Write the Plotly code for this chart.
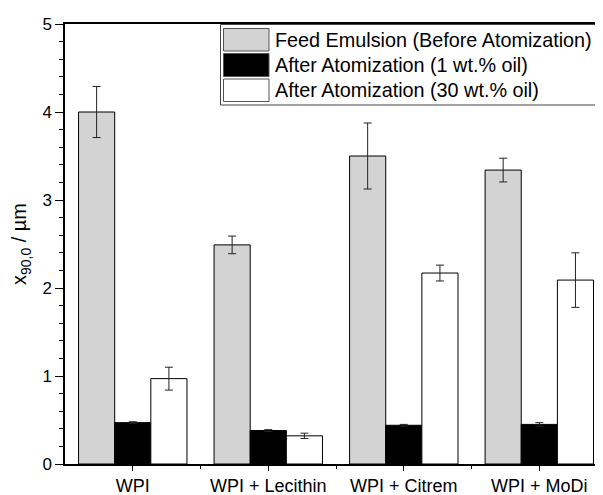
import plotly.graph_objects as go

categories = ["WPI", "WPI + Lecithin", "WPI + Citrem", "WPI + MoDi"]
series_names = ["Feed Emulsion (Before Atomization)",
                "After Atomization (1 wt.% oil)",
                "After Atomization (30 wt.% oil)"]
feed_vals = [4.00, 2.49, 3.50, 3.34]
feed_err = [0.29, 0.10, 0.375, 0.135]
oil1_vals = [0.47, 0.38, 0.44, 0.45]
oil1_err = [0.01, 0.01, 0.01, 0.02]
oil30_vals = [0.97, 0.32, 2.17, 2.09]
oil30_err = [0.13, 0.03, 0.09, 0.31]
y_ticks = [0, 1, 2, 3, 4, 5]

colors = ["#d3d3d3", "#000000", "#ffffff"]
FONT = "Liberation Sans, Arial, sans-serif"

xpos = list(range(len(categories)))
fig = go.Figure()
for name, vals, errs, col in zip(series_names,
                                 [feed_vals, oil1_vals, oil30_vals],
                                 [feed_err, oil1_err, oil30_err], colors):
    fig.add_trace(go.Bar(
        x=xpos, y=vals, name=name,
        marker=dict(color=col, line=dict(color="#000000", width=1)),
        error_y=dict(type="data", array=errs, visible=True,
                     color="#222222", thickness=1, width=4),
        showlegend=False,
    ))

# page offset (body margin) and plot area in page pixels
OFF = 8
W, H = 603 - OFF, 495 - OFF
L, R, T, B = 65, 603, 24, 464
def px(x):
    return (x - L) / (R - L)
def py(y):
    return (B - y) / (B - T)

shapes = [dict(type="rect", xref="paper", yref="paper",
               x0=px(220.5), x1=px(606), y0=py(105), y1=py(24.5),
               line=dict(color="#444444", width=1), fillcolor="white", layer="above")]
annotations = []
rows = [(28.5, 51), (53.5, 76.5), (79, 101.5)]
for (y0, y1), name, col in zip(rows, series_names, colors):
    shapes.append(dict(type="rect", xref="paper", yref="paper",
                       x0=px(223.5), x1=px(269), y0=py(y1), y1=py(y0),
                       line=dict(color="#555555", width=1), fillcolor=col, layer="above"))
    annotations.append(dict(xref="paper", yref="paper", x=px(273), y=py((y0 + y1) / 2),
                            text=name, showarrow=False, xanchor="left", yanchor="middle",
                            font=dict(family=FONT, size=19.8, color="#000000")))

fig.update_layout(
    width=W, height=H,
    margin=dict(l=L - OFF, r=0, t=T - OFF, b=H - (B - OFF), autoexpand=False),
    paper_bgcolor="white", plot_bgcolor="white",
    barmode="group", bargap=0.2, bargroupgap=0,
    font=dict(family=FONT, size=17, color="#000000"),
    shapes=shapes, annotations=annotations,
    xaxis=dict(range=[-0.5, 3.47], tickvals=xpos, ticktext=categories,
               showline=True, linecolor="#000000", linewidth=1.5, mirror=True,
               ticks="outside", ticklen=5, tickwidth=1, tickcolor="#000000",
               minor=dict(tickvals=[0.5, 1.5, 2.5], ticks="outside", ticklen=3,
                          tickcolor="#000000", tickwidth=1),
               showgrid=False, zeroline=False,
               tickfont=dict(family=FONT, size=18)),
    yaxis=dict(range=[0, 5], tickvals=y_ticks,
               showline=True, linecolor="#000000", linewidth=1.5,
               ticks="outside", ticklen=8, tickwidth=1, tickcolor="#000000",
               minor=dict(dtick=0.2, ticks="outside", ticklen=4,
                          tickcolor="#000000", tickwidth=1, showgrid=False),
               showgrid=False, zeroline=False,
               tickfont=dict(family=FONT, size=17),
               title=dict(text="x<sub>90,0</sub> / µm", standoff=10,
                          font=dict(family=FONT, size=20))),
)

fig.write_html("out.html")
